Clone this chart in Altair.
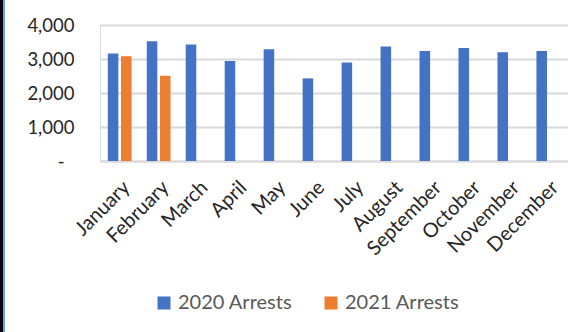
import altair as alt
import pandas as pd

months = ["January", "February", "March", "April", "May", "June", "July",
          "August", "September", "October", "November", "December"]
arrests_2020 = [3160, 3520, 3430, 2940, 3285, 2430, 2895, 3365, 3235, 3325, 3195, 3235]
arrests_2021 = [3080, 2510]
series = ["2020 Arrests", "2021 Arrests"]
colors = ["#4472C4", "#ED7D31"]

rows = [{"month": m, "series": series[0], "arrests": v} for m, v in zip(months, arrests_2020)]
rows += [{"month": m, "series": series[1], "arrests": v} for m, v in zip(months, arrests_2021)]
df = pd.DataFrame(rows)

FONT = "Lato"

bars = alt.Chart(df).mark_bar().encode(
    x=alt.X("month:N", sort=months, title=None,
            scale=alt.Scale(paddingInner=0.39, paddingOuter=0.2),
            axis=alt.Axis(labelAngle=-45, labelAlign="right", labelBaseline="top",
                          labelFontSize=20, labelColor="#262626",
                          labelFont=FONT, ticks=False, domainColor="#d9d9d9",
                          domainWidth=2, labelPadding=16, grid=False)),
    xOffset=alt.XOffset("series:N", sort=series,
                        scale=alt.Scale(paddingInner=0.2, paddingOuter=0)),
    y=alt.Y("arrests:Q", title=None,
            scale=alt.Scale(domain=[0, 4000], nice=False),
            axis=alt.Axis(values=[0, 1000, 2000, 3000, 4000], domain=False, ticks=False,
                          labelExpr="datum.value == 0 ? '-' : format(datum.value, ',')",
                          labelFontSize=18.5, labelColor="#262626", labelFont=FONT,
                          labelPadding={"condition": {"test": "datum.value === 0", "value": 36},
                                        "value": 26},
                          gridColor="#d9d9d9", gridWidth=2)),
    color=alt.Color("series:N", sort=series,
                    scale=alt.Scale(domain=series, range=colors),
                    legend=alt.Legend(title=None, orient="none", direction="horizontal",
                                      legendX=54, legendY=268, symbolType="square",
                                      symbolSize=169, symbolStrokeWidth=0,
                                      labelFontSize=20, labelColor="#595959",
                                      labelFont=FONT, columnPadding=28, labelOffset=4)),
)

# dark frame edge along the left side of the figure
frame_dark = alt.Chart(pd.DataFrame({"k": [0]})).mark_rule(color="#0a0a0a", strokeWidth=3).encode(
    x=alt.value(-98.5), y=alt.value(-30), y2=alt.value(320))
frame_light = alt.Chart(pd.DataFrame({"k": [0]})).mark_rule(color="#6f9fe8", strokeWidth=2).encode(
    x=alt.value(-96), y=alt.value(-30), y2=alt.value(320))

chart = alt.layer(bars, frame_dark, frame_light).properties(
    width=468, height=136,
    autosize=alt.AutoSizeParams(type="none"),
    padding={"left": 100, "top": 25, "right": 0, "bottom": 171},
).configure_view(stroke=None).configure(background="white")

chart.save("out.html", embed_options={"renderer": "svg", "actions": False})
